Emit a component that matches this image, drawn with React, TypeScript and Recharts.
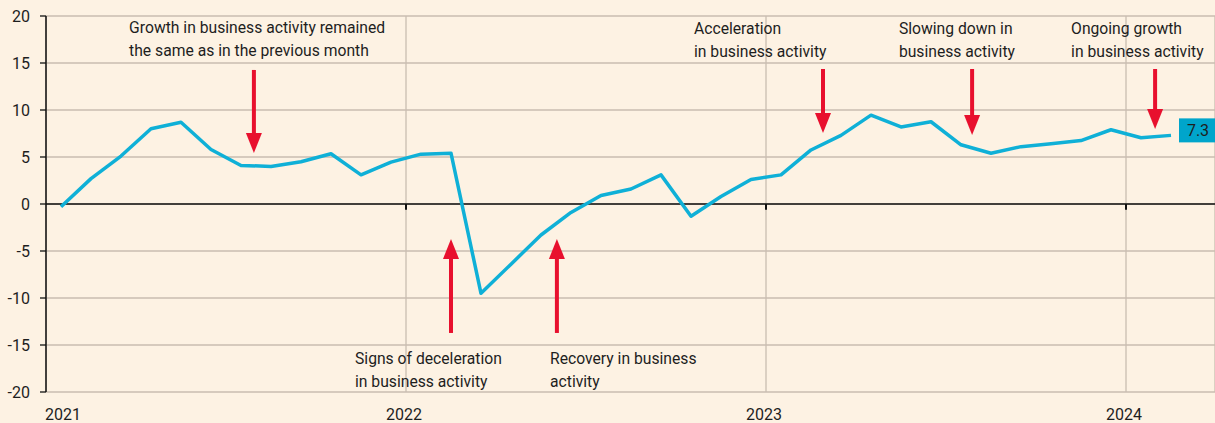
import React from 'react';
import {
  LineChart,
  Line,
  XAxis,
  YAxis,
  CartesianGrid,
  ReferenceLine,
  ReferenceDot,
} from 'recharts';

// Monthly index, Jan 2021 .. Feb 2024
const values: number[] = [
  -0.3, 2.7, 5.1, 8.0, 8.7, 5.8, 4.1, 4.0, 4.5, 5.35, 3.1, 4.45,
  5.3, 5.4, -9.5, -6.4, -3.3, -0.9, 0.9, 1.6, 3.1, -1.3, 0.8, 2.6,
  3.1, 5.75, 7.3, 9.45, 8.2, 8.75, 6.3, 5.4, 6.1, 6.4, 6.75, 7.9,
  7.05, 7.3,
];

const yearTicks: number[] = [0, 12, 24, 36];
const yearLabels: string[] = ['2021', '2022', '2023', '2024'];
const yTicks: number[] = [-20, -15, -10, -5, 0, 5, 10, 15, 20];

// annotations: x in months from Jan 2021, y = value of first text baseline
const annotations = [
  { x: 2.77, y: 18.2, lines: ['Growth in business activity remained', 'the same as in the previous month'] },
  { x: 10.3, y: -17.0, lines: ['Signs of deceleration', 'in business activity'] },
  { x: 16.8, y: -17.0, lines: ['Recovery in business', 'activity'] },
  { x: 21.6, y: 18.1, lines: ['Acceleration', 'in business activity'] },
  { x: 28.43, y: 18.1, lines: ['Slowing down in', 'business activity'] },
  { x: 34.17, y: 18.1, lines: ['Ongoing growth', 'in business activity'] },
];

const arrows = [
  { x: 6.93, from: 14.26, to: 5.43 },
  { x: 13.5, from: -13.72, to: -3.72 },
  { x: 17.03, from: -13.72, to: -3.72 },
  { x: 25.9, from: 14.36, to: 7.55 },
  { x: 30.87, from: 14.36, to: 7.34 },
  { x: 36.97, from: 14.36, to: 7.98 },
];

const data = values.map((v, i) => ({ x: i + 0.5, v }));
const last = data[data.length - 1];

const FONT = 'Roboto, "Open Sans", sans-serif';
const TEXT = '#1e1e1e';
const BG = '#fdf2e3';
const GRID = '#c9bdb1';
const LINE = '#0fb0d7';
const RED = '#e8102e';
const BOX = '#00a5cb';

const XTick = (props: any) => {
  const { x, y, payload } = props;
  const idx = yearTicks.indexOf(payload.value);
  const label = yearLabels[idx] ?? '';
  const first = idx === 0;
  return (
    <text
      x={first ? x - 1 : x - 2}
      y={y + 28}
      textAnchor={first ? 'start' : 'middle'}
      fill={TEXT}
      fontSize={16}
      fontFamily={FONT}
    >
      {label}
    </text>
  );
};

const ArrowShape = (props: any) => {
  const { x1, y1, x2, y2 } = props;
  const dir = y2 > y1 ? 1 : -1;
  const headH = 20;
  const headW = 8;
  const baseY = y2 - dir * headH;
  return (
    <g>
      <line x1={x1} y1={y1} x2={x2} y2={baseY + dir * 2} stroke={RED} strokeWidth={4} />
      <polygon
        points={`${x2 - headW},${baseY} ${x2 + headW},${baseY} ${x2},${y2}`}
        fill={RED}
      />
    </g>
  );
};

const makeTextShape = (lines: string[]) => (props: any) => {
  const { cx, cy } = props;
  return (
    <text x={cx} y={cy} fill={TEXT} fontSize={15.7} fontFamily={FONT}>
      {lines.map((l, i) => (
        <tspan key={i} x={cx} dy={i === 0 ? 0 : 22.7}>
          {l}
        </tspan>
      ))}
    </text>
  );
};

const LastLabel = (props: any) => {
  const { cx, cy } = props;
  return (
    <g>
      <rect x={cx + 8} y={cy - 17} width={44} height={24} fill={BOX} />
      <text
        x={cx + 27}
        y={cy - 5}
        dy="0.36em"
        textAnchor="middle"
        fill={TEXT}
        fontSize={16}
        fontFamily={FONT}
      >
        {String(last.v)}
      </text>
    </g>
  );
};

export default function App() {
  return (
    <div
      style={{
        position: 'absolute',
        left: 0,
        top: 0,
        width: 1215,
        height: 423,
        background: BG,
        overflow: 'hidden',
      }}
    >
      <LineChart
        width={1215}
        height={423}
        data={data}
        margin={{ top: 16, right: 0, bottom: 0, left: 0 }}
      >
        <CartesianGrid stroke={GRID} strokeWidth={1.3} />
        <XAxis
          dataKey="x"
          type="number"
          domain={[0, 1169 / 30]}
          ticks={yearTicks}
          allowDataOverflow
          axisLine={false}
          tickLine={false}
          tickSize={0}
          tickMargin={0}
          height={31}
          tick={<XTick />}
          interval={0}
        />
        <YAxis
          type="number"
          domain={[-20, 20]}
          ticks={yTicks}
          width={46}
          axisLine={{ stroke: '#111', strokeWidth: 1.5 }}
          tickLine={{ stroke: '#111', strokeWidth: 1.3 }}
          tickSize={6}
          tickMargin={10}
          interval={0}
          tick={{ fill: TEXT, fontSize: 16, fontFamily: FONT }}
        />
        <ReferenceLine y={0} stroke="#111" strokeWidth={1.5} />
        {yearTicks.slice(1).map((t) => (
          <ReferenceLine
            key={'yt' + t}
            segment={[
              { x: t, y: 0 },
              { x: t, y: -0.6 },
            ]}
            stroke="#111"
            strokeWidth={2}
          />
        ))}
        <Line
          type="linear"
          dataKey="v"
          stroke={LINE}
          strokeWidth={3.5}
          dot={false}
          isAnimationActive={false}
          strokeLinejoin="round"
        />
        {arrows.map((a, i) => (
          <ReferenceLine
            key={'ar' + i}
            segment={[
              { x: a.x, y: a.from },
              { x: a.x, y: a.to },
            ]}
            shape={ArrowShape}
          />
        ))}
        {annotations.map((a, i) => (
          <ReferenceDot
            key={'an' + i}
            x={a.x}
            y={a.y}
            r={1}
            shape={makeTextShape(a.lines)}
          />
        ))}
        <ReferenceDot x={last.x} y={last.v} r={1} shape={LastLabel} ifOverflow="visible" />
      </LineChart>
    </div>
  );
}
